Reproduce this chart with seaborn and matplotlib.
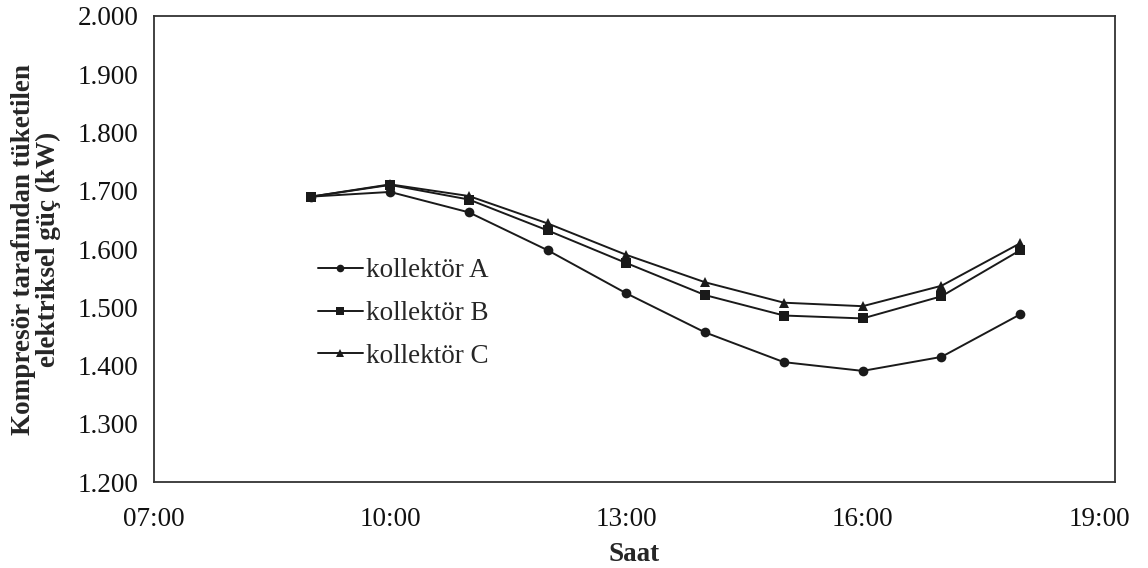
import matplotlib
matplotlib.use("Agg")
import matplotlib.pyplot as plt
import matplotlib.ticker as mticker
import seaborn as sns
import pandas as pd

# Hourly measurements (hour of day) and compressor power (kW) per collector
hours = [9, 10, 11, 12, 13, 14, 15, 16, 17, 18]
kollektor_a = [1.690, 1.698, 1.663, 1.598, 1.524, 1.457, 1.406, 1.391, 1.415, 1.488]
kollektor_b = [1.690, 1.710, 1.685, 1.632, 1.576, 1.521, 1.486, 1.481, 1.519, 1.598]
kollektor_c = [1.690, 1.711, 1.691, 1.644, 1.590, 1.543, 1.508, 1.502, 1.537, 1.610]
series_names = ["kollektör A", "kollektör B", "kollektör C"]
x_ticks = [7, 10, 13, 16, 19]
y_ticks = [1.2, 1.3, 1.4, 1.5, 1.6, 1.7, 1.8, 1.9, 2.0]

df = pd.DataFrame({
    "Saat": hours * 3,
    "Güç": kollektor_a + kollektor_b + kollektor_c,
    "Seri": [series_names[0]] * len(hours) + [series_names[1]] * len(hours)
            + [series_names[2]] * len(hours),
})

sns.set_theme(style="white")
plt.rcParams["font.family"] = ["Liberation Serif", "DejaVu Serif"]
FS = 19.5

fig = plt.figure(figsize=(11.48, 5.68), dpi=100)
ax = fig.add_axes([0.134, 0.151, 0.837, 0.821])

sns.lineplot(
    data=df, x="Saat", y="Güç", hue="Seri", style="Seri",
    palette=["#1a1a1a"] * 3, dashes=False,
    markers={"kollektör A": "o", "kollektör B": "s", "kollektör C": "^"},
    markersize=7, markeredgewidth=0, linewidth=1.4, ax=ax,
)

ax.set_xlim(7, 19.2)
ax.set_ylim(1.2, 2.0)
ax.set_xticks(x_ticks)
ax.set_yticks(y_ticks)
ax.xaxis.set_major_formatter(mticker.FuncFormatter(lambda v, p: f"{int(round(v)):02d}:00"))
ax.yaxis.set_major_formatter(mticker.FuncFormatter(lambda v, p: f"{v:.3f}"))
ax.tick_params(axis="both", length=0, labelsize=FS, colors="#111111")
ax.tick_params(axis="y", pad=11)
ax.tick_params(axis="x", pad=18)

for s in ax.spines.values():
    s.set_visible(True)
    s.set_color("#333333")
    s.set_linewidth(1.3)

ax.set_xlabel("Saat", fontsize=FS, fontweight="bold", labelpad=7)
ax.set_ylabel("Kompresör tarafından tüketilen\nelektriksel güç (kW)",
              fontsize=FS, fontweight="bold", labelpad=12, linespacing=1.0)

handles, labels = ax.get_legend_handles_labels()
for h in handles:
    h.set_markersize(5.5)
leg = ax.legend(handles, labels, loc="upper left", bbox_to_anchor=(0.171, 0.48),
                frameon=False, fontsize=FS, handlelength=1.65, handletextpad=0.1,
                labelspacing=0.65, borderpad=0, borderaxespad=0)

fig.savefig("out.png", dpi=100)
